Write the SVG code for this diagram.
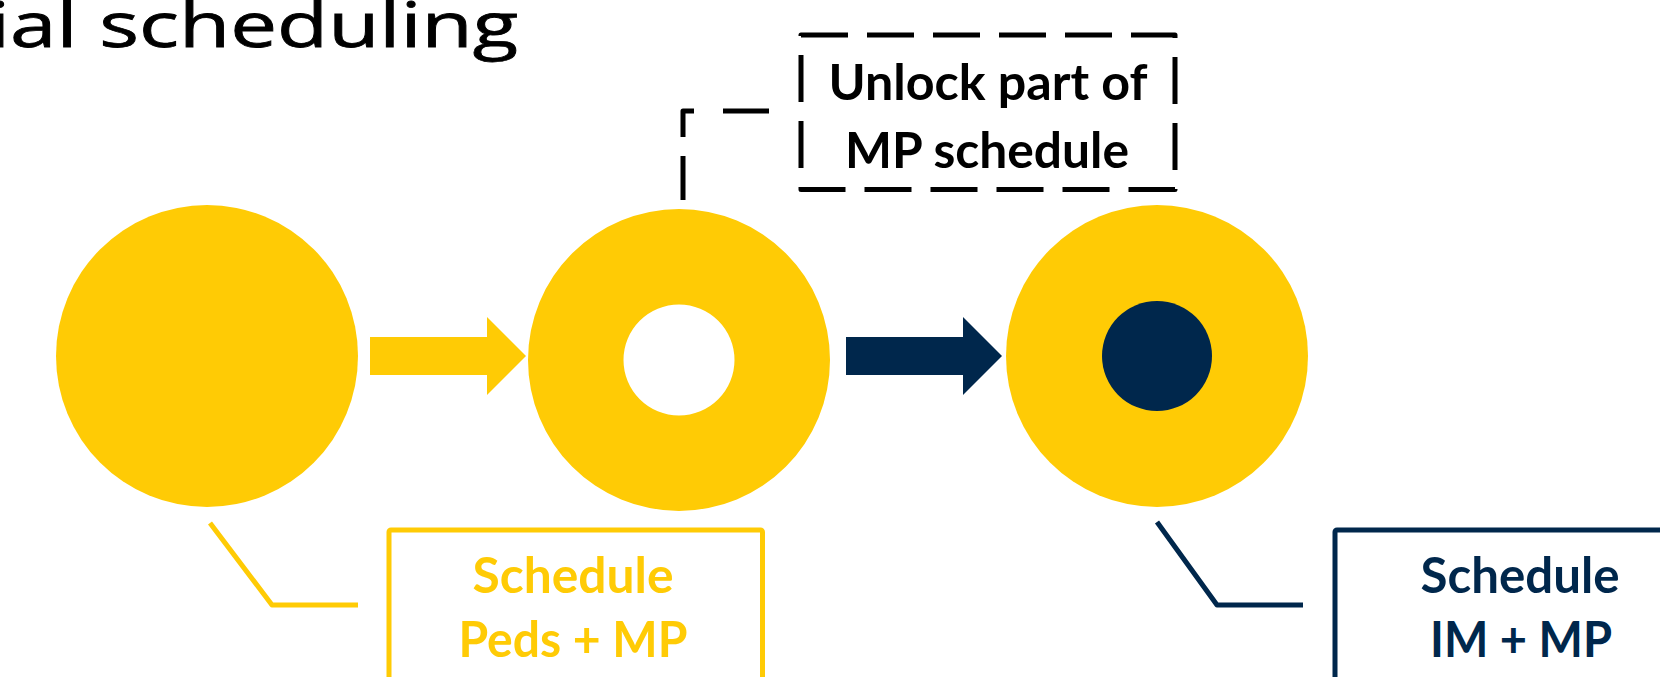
<svg xmlns="http://www.w3.org/2000/svg" width="1660" height="677" viewBox="0 0 1660 677">
  <style>
    .maize { fill: #FFCB05; }
    .navy { fill: #00274C; }
    .title { font-family: "Open Sans", "Liberation Sans", sans-serif; font-size: 63px; fill: #000; }
    .label { font-family: Lato, "Open Sans", "Liberation Sans", sans-serif; font-weight: 700; font-size: 49px; text-anchor: middle; }
    .label-black { fill: #000; }
    .dashed { fill: none; stroke: #000; stroke-width: 5; stroke-linejoin: round; }
    .frame-maize { fill: none; stroke: #FFCB05; stroke-width: 5; stroke-linejoin: round; }
    .frame-navy { fill: none; stroke: #00274C; stroke-width: 5; stroke-linejoin: round; }
  </style>

  <rect width="1660" height="677" fill="#fff"/>

  <!-- Slide title, running off the left and top edges -->
  <g id="title">
    <text class="title" x="-11" y="47" textLength="529" lengthAdjust="spacingAndGlyphs" stroke="#000" stroke-width="0.8">ial scheduling</text>
  </g>

  <!-- Stage 1: solid disc -->
  <g id="node-start">
    <circle class="maize" cx="207" cy="356" r="151"/>
  </g>

  <!-- Stage 2: ring with an empty centre -->
  <g id="node-partial">
    <path class="maize" fill-rule="evenodd"
          d="M528,360 a151,151 0 1,0 302,0 a151,151 0 1,0 -302,0 Z
             M623.5,360 a55.5,55.5 0 1,0 111,0 a55.5,55.5 0 1,0 -111,0 Z"/>
  </g>

  <!-- Stage 3: ring with a filled centre -->
  <g id="node-complete">
    <circle class="maize" cx="1157" cy="356" r="151"/>
    <circle class="navy" cx="1157" cy="356" r="55"/>
  </g>

  <!-- Dashed callout above stage 2 -->
  <g id="callout-unlock">
    <rect class="dashed" x="801" y="35" width="374" height="154.5" stroke-dasharray="47 19"/>
    <text class="label label-black" x="988" y="100" textLength="319" lengthAdjust="spacingAndGlyphs">Unlock part of</text>
    <text class="label label-black" x="987" y="168" textLength="284" lengthAdjust="spacingAndGlyphs">MP schedule</text>
  </g>

  <!-- Label for stage 1 -->
  <g id="label-peds">
    <rect class="frame-maize" x="389" y="530" width="373.5" height="200" rx="2"/>
    <text class="label maize" x="573" y="593" textLength="201" lengthAdjust="spacingAndGlyphs">Schedule</text>
    <text class="label maize" x="573" y="657" textLength="229" lengthAdjust="spacingAndGlyphs">Peds + MP</text>
  </g>

  <!-- Label for stage 3 -->
  <g id="label-im">
    <rect class="frame-navy" x="1335" y="530" width="374" height="200" rx="2"/>
    <text class="label navy" x="1520" y="593" textLength="199" lengthAdjust="spacingAndGlyphs">Schedule</text>
    <text class="label navy" x="1521" y="657" textLength="182" lengthAdjust="spacingAndGlyphs">IM + MP</text>
  </g>

  <!-- Connectors: block arrows and leader lines -->
  <g id="connectors">
    <polygon class="maize" points="370,337 487,337 487,317 526,356 487,395 487,375 370,375"/>
    <polygon class="navy" points="846,337 963,337 963,317 1002,356 963,395 963,375 846,375"/>
    <path class="dashed" d="M683,200 V111 H769" stroke-dasharray="44 19 37 29 46"/>
    <polyline class="frame-maize" points="210,523 272,605 358,605"/>
    <polyline class="frame-navy" points="1157,522 1217,605 1303,605"/>
  </g>
</svg>
